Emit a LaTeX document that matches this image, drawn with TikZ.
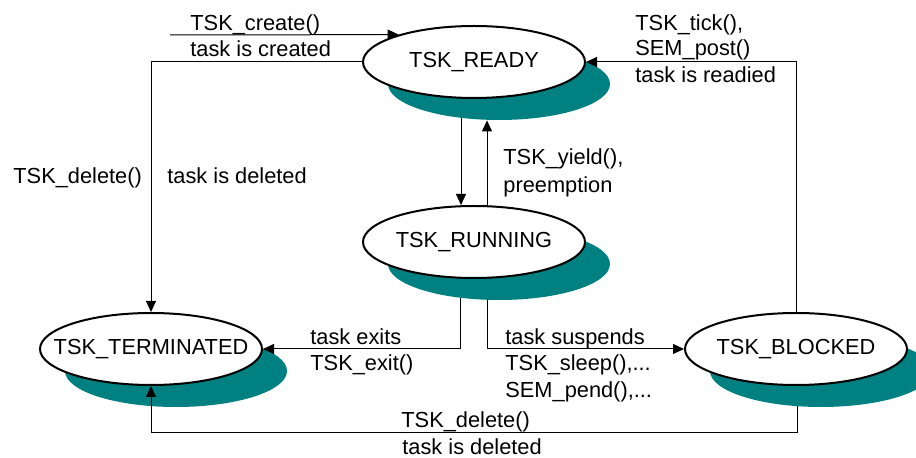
\documentclass[tikz,border=0pt]{standalone}
\usepackage{fontspec}
\setmainfont{Liberation Sans}
\usetikzlibrary{arrows.meta,shapes.geometric}
\definecolor{shadowteal}{HTML}{008080}
\tikzset{
  state/.style={ellipse,draw=black,line width=1pt,fill=white,minimum width=111pt,minimum height=36pt,inner sep=0pt,
    label={[font=\fontsize{10.9}{13}\selectfont,inner sep=0pt]center:#1}},
  shade/.style={ellipse,fill=shadowteal,minimum width=111pt,minimum height=36pt,inner sep=0pt},
  arr/.style={line width=0.5pt,-{Triangle[length=5.5pt,width=5pt]}},
  lbl/.style={anchor=base west,inner sep=0pt,font=\fontsize{10.9}{13}\selectfont}
}
\begin{document}
\begin{tikzpicture}[x=0.5pt,y=-0.5pt]
\useasboundingbox (0,0) rectangle (916,458);
% shadows
\node[shade] (rdyS) at (499,84) {};
\node[shade] (runS) at (499,264) {};
\node[shade] (trmS) at (176,371) {};
\node[shade] (blkS) at (821,371) {};
% states
\node[state={TSK\_READY}] (ready) at (474,62) {};
\node[state={TSK\_RUNNING}] (run) at (474,242) {};
\node[state={TSK\_TERMINATED}] (term) at (151,349) {};
\node[state={TSK\_BLOCKED}] (blk) at (796,349) {};
% coordinates
\coordinate (c0) at (170,35);
\coordinate (dn) at (461,118);
\coordinate (upS) at (487,206);
\coordinate (p1) at (460,298);
\coordinate (p2) at (487,300);
\coordinate (p3) at (797,406);
\coordinate (b1) at (797,433);
% connectors
\draw[arr] (c0) -- (ready.160);
\draw[arr] (ready.west) -| (term.north);
\draw[arr] (dn) -- (dn |- run.north);
\draw[arr] (upS) -- (upS |- rdyS.south);
\draw[arr] (p1) |- (term.east);
\draw[arr] (p2) |- (blk.west);
\draw[arr] (blk.north) |- (ready.east);
\draw[arr] (p3) -- (b1) -| (term.south);
% labels
\node[lbl] (l1) at (190,31) {TSK\_create()};
\node[lbl] (l2) at (190,57) {task is created};
\node[lbl] (l3) at (635,31) {TSK\_tick(),};
\node[lbl] (l4) at (635,56) {SEM\_post()};
\node[lbl] (l5) at (635,83) {task is readied};
\node[lbl] (l6) at (13,184) {TSK\_delete()};
\node[lbl] (l7) at (167,184) {task is deleted};
\node[lbl] (l8) at (503,165) {TSK\_yield(),};
\node[lbl] (l9) at (503,193) {preemption};
\node[lbl] (l10) at (310,345) {task exits};
\node[lbl] (l11) at (310,371) {TSK\_exit()};
\node[lbl] (l12) at (505,345) {task suspends};
\node[lbl] (l13) at (505,371) {TSK\_sleep(),...};
\node[lbl] (l14) at (505,398) {SEM\_pend(),...};
\node[lbl] (l15) at (401,428) {TSK\_delete()};
\node[lbl] (l16) at (402,455) {task is deleted};
\end{tikzpicture}
\end{document}
